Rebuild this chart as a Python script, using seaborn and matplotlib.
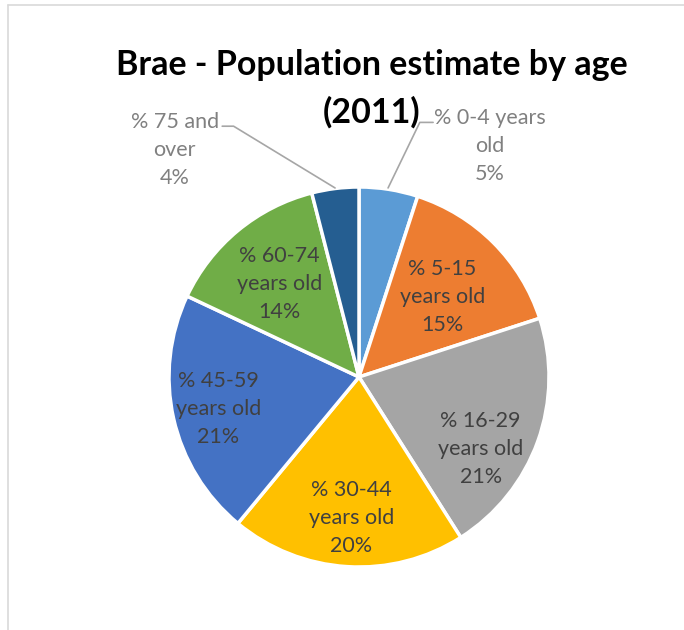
import matplotlib
matplotlib.use("Agg")
import matplotlib.pyplot as plt
import seaborn as sns

sns.set_theme(style="white")
plt.rcParams['font.family'] = ['Lato', 'DejaVu Sans']

# data
groups = ["% 0-4 years\nold", "% 5-15\nyears old", "% 16-29\nyears old",
          "% 30-44\nyears old", "% 45-59\nyears old", "% 60-74\nyears old",
          "% 75 and\nover"]
shares = [5, 15, 21, 20, 21, 14, 4]
colours = ["#5B9BD5", "#ED7D31", "#A5A5A5", "#FFC000", "#4472C4", "#70AD47", "#255E91"]
title_lines = ["Brae - Population estimate by age", "(2011)"]

# label placement (pie radius = 1), outside labels get a leader line
lab_pos = [(0.69, 1.215), (0.44, 0.42), (0.64, -0.38), (-0.04, -0.74),
           (-0.74, -0.17), (-0.42, 0.49), (-0.97, 1.195)]
outside = [True, False, False, False, False, False, True]
leaders = {0: [(0.39, 1.34), (0.32, 1.34), (0.153, 0.995)],
           6: [(-0.72, 1.32), (-0.66, 1.32), (-0.126, 0.995)]}

fig = plt.figure(figsize=(6.84, 6.30), dpi=100)
ax = fig.add_axes([0, 0, 1, 1])

ax.pie(shares, colors=colours, startangle=90, counterclock=False,
       radius=1, wedgeprops=dict(edgecolor="white", linewidth=2.5))

for i, (g, s) in enumerate(zip(groups, shares)):
    x, y = lab_pos[i]
    ax.text(x, y, f"{g}\n{s}%", ha="center", va="center", fontsize=15.5,
            color="#808080" if outside[i] else "#404040", linespacing=1.5)
    if i in leaders:
        xs, ys = zip(*leaders[i])
        ax.plot(xs, ys, color="#A6A6A6", lw=1.2)

# title, one text per line
for t, ty in zip(title_lines, [1.64, 1.395]):
    ax.text(0.068, ty, t, ha="center", va="center", fontsize=24.5,
            fontweight="bold", color="black")

ax.set_aspect("auto")
ax.set_xlim(-359 / 190, (684 - 359) / 190)
ax.set_ylim((377 - 630) / 190, 377 / 190)
ax.axis("off")

# chart frame, only left and top edges visible
fig.add_artist(plt.Line2D([8 / 684, 8 / 684], [0, 1 - 5 / 630], color="#D9D9D9", lw=1.2))
fig.add_artist(plt.Line2D([8 / 684, 1], [1 - 5 / 630, 1 - 5 / 630], color="#D9D9D9", lw=1.2))

fig.savefig("out.png", dpi=100)
